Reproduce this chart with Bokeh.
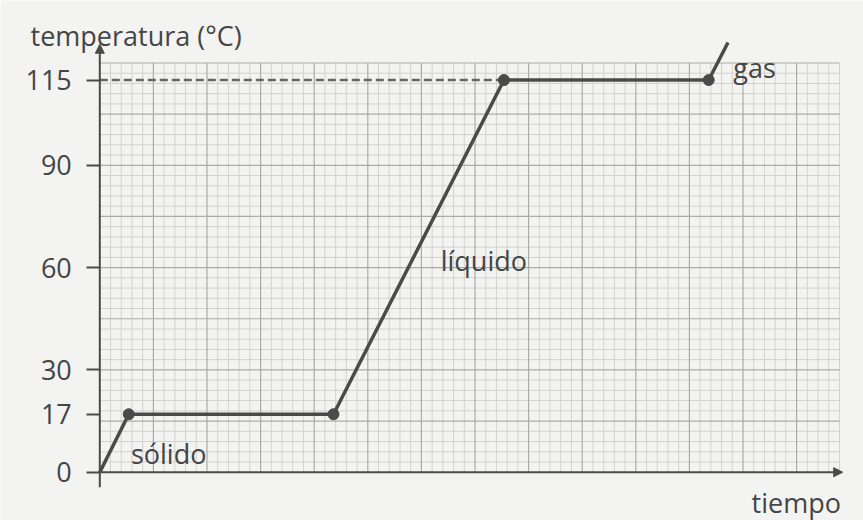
import numpy as np
from bokeh.plotting import figure
from bokeh.models import Range1d, LinearAxis, FixedTicker, Arrow, NormalHead
from bokeh.core.properties import value
from bokeh.embed import file_html
from bokeh.resources import INLINE

# ---- data ----
tiempo = [0, 2.7, 21.8, 37.7, 56.8, 58.6]
temperatura = [0, 17, 17, 115, 115, 126]
y_ticks = [0, 17, 30, 60, 90, 115]
fases = ["sólido", "líquido", "gas"]
y_title = "temperatura (°C)"
x_title = "tiempo"

# ---- styling / layout ----
BG = "#f3f3f1"
INK = "#454545"
LINE = "#4a4a4a"
FONT = value("Open Sans")
FS = "27px"
X_GRID_END = 69
Y_GRID_END = 120

p = figure(width=863, height=520,
           x_range=Range1d(-9.263, 71.24), y_range=Range1d(-14.16, 138.33),
           output_backend="svg", toolbar_location=None,
           x_axis_location=None, y_axis_location=None, min_border=0)
p.outline_line_color = None
p.background_fill_color = BG
p.border_fill_color = BG
p.grid.visible = False

# graph-paper grid
xs_minor = [v for v in range(1, X_GRID_END + 1) if v % 5 != 0]
xs_major = [v for v in range(5, X_GRID_END + 1, 5)]
ys_minor = [v for v in range(3, Y_GRID_END + 1, 3) if v % 15 != 0]
ys_major = [v for v in range(15, Y_GRID_END + 1, 15)]
p.segment(x0=xs_minor, y0=[0] * len(xs_minor), x1=xs_minor, y1=[Y_GRID_END] * len(xs_minor),
          line_color="#d2d2cf", line_width=1)
p.segment(x0=[0] * len(ys_minor), y0=ys_minor, x1=[X_GRID_END] * len(ys_minor), y1=ys_minor,
          line_color="#d2d2cf", line_width=1)
p.segment(x0=xs_major, y0=[0] * len(xs_major), x1=xs_major, y1=[Y_GRID_END] * len(xs_major),
          line_color="#ababa9", line_width=1.2)
p.segment(x0=[0] * len(ys_major), y0=ys_major, x1=[X_GRID_END] * len(ys_major), y1=ys_major,
          line_color="#ababa9", line_width=1.2)

# dashed guide at boiling temperature
p.line([0, tiempo[3]], [temperatura[3], temperatura[3]], line_color="#666666",
       line_width=2.5, line_dash="8 4")

# axes lines with arrows
p.add_layout(Arrow(end=NormalHead(size=9, fill_color=LINE, line_color=LINE),
                   x_start=0, y_start=-4.4, x_end=0, y_end=125.5,
                   line_color=LINE, line_width=2))
p.add_layout(Arrow(end=NormalHead(size=9, fill_color=LINE, line_color=LINE),
                   x_start=0, y_start=0, x_end=69.3, y_end=0,
                   line_color=LINE, line_width=2))

# heating curve
p.line(tiempo, temperatura, line_color=LINE, line_width=3.5, line_join="round")
p.scatter(tiempo[1:5], temperatura[1:5], size=11, fill_color=LINE, line_color=LINE)

# y axis with tick labels
yaxis = LinearAxis(fixed_location=0, ticker=FixedTicker(ticks=y_ticks))
yaxis.axis_line_color = None
yaxis.major_tick_in = 0
yaxis.major_tick_out = 13
yaxis.major_tick_line_color = LINE
yaxis.major_tick_line_width = 2
yaxis.minor_tick_line_color = None
yaxis.major_label_standoff = 15
yaxis.major_label_text_font = "Open Sans"
yaxis.major_label_text_font_size = FS
yaxis.major_label_text_color = INK
p.add_layout(yaxis, "left")

# texts
p.text(x=[-6.46, 60.8], y=[128.1, -8.8], text=[y_title, x_title],
       text_font=FONT, text_font_size=FS, text_color=INK,
       text_align="left", text_baseline="alphabetic")
p.text(x=[2.9, 31.8, 59.1], y=[5.4, 62.1, 118.8], text=fases,
       text_font=FONT, text_font_size=FS, text_color=INK,
       text_align="left", text_baseline="alphabetic")

open("out.html", "w").write(file_html(p, INLINE))
